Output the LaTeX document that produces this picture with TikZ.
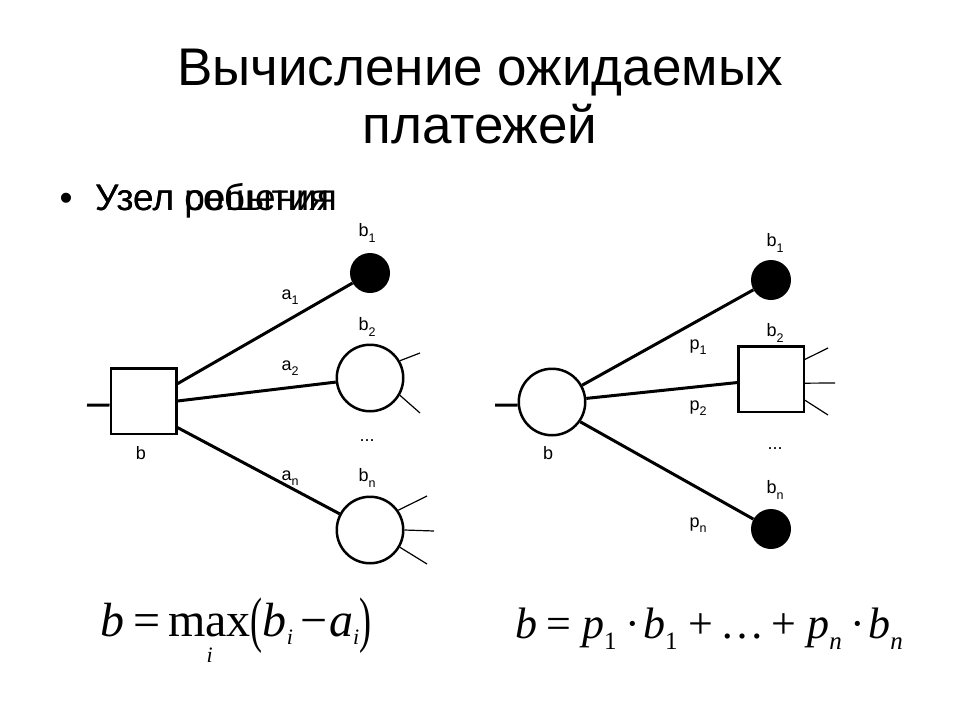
\documentclass[tikz,border=0pt]{standalone}
\usepackage{fontspec}
\usepackage{graphicx}
\setmainfont{Liberation Sans}
\newfontfamily\formfont{Liberation Serif}
\usetikzlibrary{calc}
\newcommand\lsub[1]{\raisebox{-8pt}{\fontsize{22}{22}\selectfont #1}}
\newcommand\rsub[1]{\raisebox{-11pt}{\fontsize{25}{25}\selectfont #1}}
\newcommand\lblsub[1]{\raisebox{-0.3em}{\fontsize{12.5}{13}\selectfont #1}}
\newcommand\tallpar[1]{\raisebox{-0.1em}{\scalebox{0.75}[1.28]{#1}}}
\newcommand\maxop{\setbox0\hbox{max}\rlap{\hbox to \wd0{\hss\raisebox{-26pt}{\fontsize{22}{22}\selectfont\itshape i}\hss}}\box0}

\begin{document}
\begin{tikzpicture}[x=1pt,y=-1pt,
		decision/.style={draw, line width=2.5pt, minimum size=65.5pt, inner sep=0pt},
		chance/.style={circle, draw, line width=2.5pt, minimum size=66.5pt, inner sep=0pt},
		endpoint/.style={circle, fill=black, minimum size=40pt, inner sep=0pt},
		branch/.style={line width=3pt},
		stub/.style={line width=1.2pt},
		lbl/.style={font=\fontsize{18}{20}\selectfont, inner sep=0pt}]
			%%%%% START %%%%%
			
			\useasboundingbox[fill=white] (0,0) rectangle (960,720);
			
			% title and bullet
			\node[anchor=base, font=\fontsize{53}{58}\selectfont] (title1) at (480,85) {Вычисление ожидаемых};
			\node[anchor=base, font=\fontsize{53}{58}\selectfont] (title2) at (480,143) {платежей};
			\node[anchor=base, font=\fontsize{37}{40}\selectfont] (dot) at (66,210) {•};
			\node[anchor=base west, font=\fontsize{37}{40}\selectfont, inner sep=0pt] (bul1) at (95,210) {Узел решения};
			\node[anchor=base west, font=\fontsize{37}{40}\selectfont, inner sep=0pt] (bul2) at (95,210) {Узел события};
			
			% decision tree
			\node[decision] (dl) at (143.5,401) {};
			\node[endpoint] (l1) at (370,273) {};
			\node[chance] (l2) at (370,378) {};
			\node[chance] (ln) at (370,530) {};
			
			\coordinate (dl in) at (87,405);
			\coordinate (l2 o1) at (420,353);
			\coordinate (l2 o2) at (420,413);
			\coordinate (ln o1) at (427,496);
			\coordinate (ln o2) at (434,531);
			\coordinate (ln o3) at (427,564);
			
			\draw[branch] (dl in) -- (dl.187);
			\draw[branch] (dl.27) -- (l1);
			\draw[branch] (dl.0) -- (l2);
			\draw[branch] (dl.-38) -- (ln);
			\draw[stub] (l2.30) -- (l2 o1);
			\draw[stub] (l2.-30) -- (l2 o2);
			\draw[stub] (ln.35) -- (ln o1);
			\draw[stub] (ln.0) -- (ln o2);
			\draw[stub] (ln.-30) -- (ln o3);
			
			\node[lbl] (lb1) at (367,233) {b\lblsub{1}};
			\node[lbl] (la1) at (290,297) {a\lblsub{1}};
			\node[lbl] (lb2) at (367,327) {b\lblsub{2}};
			\node[lbl] (la2) at (290,368) {a\lblsub{2}};
			\node[lbl] (ldots) at (367,441) {...};
			\node[lbl] (lan) at (290,478) {a\lblsub{n}};
			\node[lbl] (lbn) at (367,478) {b\lblsub{n}};
			\node[lbl] (lb) at (141,453) {b};
			
			% chance tree
			\node[chance] (dr) at (552,402) {};
			\node[endpoint] (r1) at (771,280) {};
			\node[decision] (r2) at (771,379) {};
			\node[endpoint] (rn) at (771,529) {};
			
			\coordinate (dr in) at (495,405);
			\coordinate (r2 o1) at (828,348);
			\coordinate (r2 o2) at (835,383);
			\coordinate (r2 o3) at (828,415);
			
			\draw[branch] (dr in) -- (dr.185);
			\draw[branch] (dr) -- (r1);
			\draw[branch] (dr) -- (r2);
			\draw[branch] (dr.-35) -- (rn);
			\draw[stub] (r2.30) -- (r2 o1);
			\draw[stub] (r2.-7) -- (r2 o2);
			\draw[stub] (r2.-32) -- (r2 o3);
			
			\node[lbl] (rb1) at (775,243) {b\lblsub{1}};
			\node[lbl] (rb2) at (775,333) {b\lblsub{2}};
			\node[lbl] (rp1) at (698,347) {p\lblsub{1}};
			\node[lbl] (rp2) at (698,408) {p\lblsub{2}};
			\node[lbl] (rdots) at (775,449) {...};
			\node[lbl] (rbn) at (775,490) {b\lblsub{n}};
			\node[lbl] (rpn) at (698,525) {p\lblsub{n}};
			\node[lbl] (rb) at (548,453) {b};
			
			% formulas
			\node[anchor=base west, inner sep=0pt, font=\formfont\fontsize{48}{48}\selectfont] (fmax) at (100,636)
				{\textit{b}\kern9pt=\kern8pt\maxop\tallpar{(}\textit{b}\lsub{\itshape i}\kern7pt−\kern2pt\textit{a}\lsub{\itshape i}\tallpar{)}};
			\node[anchor=base west, inner sep=0pt, font=\formfont\fontsize{44}{44}\selectfont] (fsum) at (515,638)
				{\textit{b}\kern9pt=\kern11pt\textit{p}\rsub{1}\kern9pt·\kern3pt\textit{b}\rsub{1}\kern11pt+\kern7pt…\kern7pt+\kern11pt\textit{p}\rsub{\itshape n}\kern9pt·\kern3pt\textit{b}\rsub{\itshape n}};
			
			%%%%% END %%%%%
\end{tikzpicture}
\end{document}
